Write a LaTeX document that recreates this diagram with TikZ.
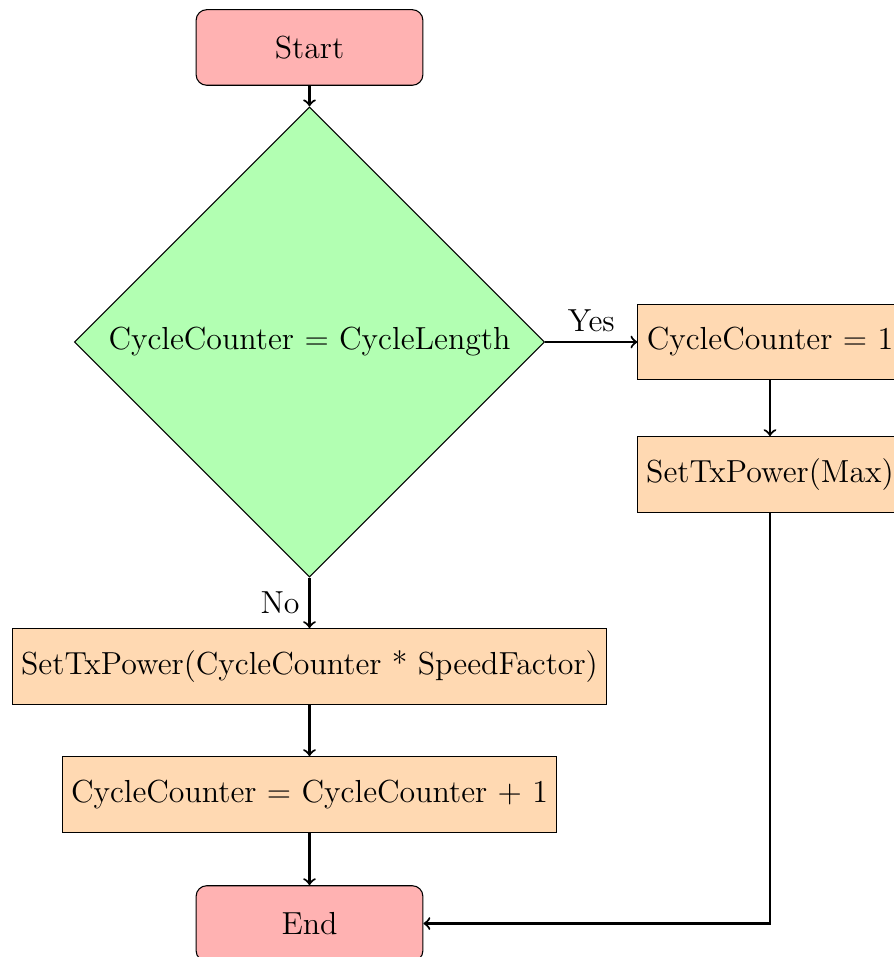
\documentclass[tikz,border=0pt]{standalone}
\usetikzlibrary{shapes.geometric}

\tikzset{
  every node/.style={font=\fontsize{12}{14.4}\selectfont},
  startstop/.style={rectangle, rounded corners, minimum width=3cm, minimum height=1cm,
    text centered, draw=black, fill=red!30},
  decision/.style={diamond, minimum width=6.22cm, minimum height=6.22cm, inner sep=0pt,
    text centered, draw=black, fill=green!30},
  process/.style={rectangle, minimum width=3cm, minimum height=1cm,
    text centered, draw=black, fill=orange!30},
  arrow/.style={thick, ->},
}

\begin{document}
\begin{tikzpicture}
  \useasboundingbox (0,0) rectangle (11.825,-12.659);

  \node[startstop] (start) at (4.094,-0.628) {Start};
  \node[decision]  (dec)   at (4.094,-4.524) {CycleCounter = CycleLength};
  \node[process]   (reset) at (10.185,-4.524) {CycleCounter = 1};
  \node[process]   (pmax)  at (10.185,-6.276) {SetTxPower(Max)};
  \node[process]   (pset)  at (4.094,-8.816) {SetTxPower(CycleCounter * SpeedFactor)};
  \node[process]   (inc)   at (4.094,-10.509) {CycleCounter = CycleCounter + 1};
  \node[startstop] (stop)  at (4.094,-12.216) {End};

  \draw[arrow] (start) -- (dec);
  \draw[arrow] (dec.east) -- node[above] {Yes} (reset.west);
  \draw[arrow] (reset) -- (pmax);
  \draw[arrow] (dec.south) -- node[left] {No} (pset.north);
  \draw[arrow] (pset) -- (inc);
  \draw[arrow] (inc) -- (stop);
  \draw[arrow] (pmax.south) |- (stop.east);
\end{tikzpicture}
\end{document}
